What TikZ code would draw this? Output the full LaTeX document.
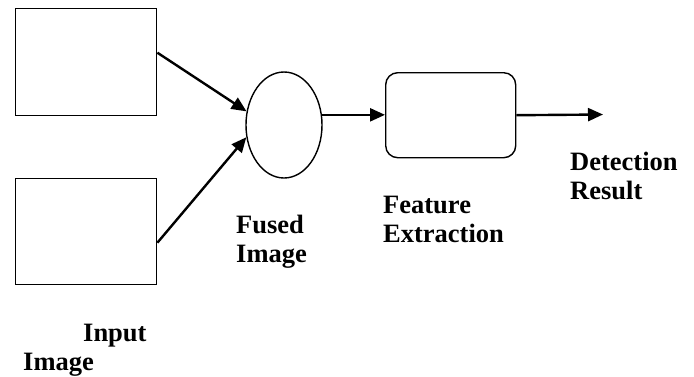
\documentclass[tikz,border=0pt]{standalone}
\usepackage{fontspec}
\setmainfont{Liberation Serif}
\usetikzlibrary{arrows.meta,shapes.geometric}
\begin{document}
\begin{tikzpicture}[x=1pt,y=-1pt,
  box/.style={draw,line width=1.4pt,inner sep=0pt,anchor=north west},
  fuse/.style={draw,ellipse,line width=1.4pt,inner sep=0pt,minimum width=76pt,minimum height=106pt},
  conn/.style={line width=2.4pt,-{Triangle[length=15pt,width=13pt]}},
  lbl/.style={font=\fontsize{26.5pt}{29pt}\selectfont\bfseries,align=left,anchor=base west,inner sep=0pt}]
\useasboundingbox (0,0) rectangle (694,376);
\node[box,minimum width=141pt,minimum height=107pt] (in1) at (15,8) {};
\node[box,minimum width=141pt,minimum height=106pt] (in2) at (15,178) {};
\node[fuse] (fused) at (284,125) {};
\node[box,rounded corners=12pt,minimum width=130pt,minimum height=85pt] (feat) at (385,72) {};
\coordinate (out) at (603,114.5);
\draw[conn] ([yshift=9.5pt]in1.east) -- (fused.160);
\draw[conn] ([yshift=-11pt]in2.east) -- (fused.198);
\draw[conn] (fused.15) -- (fused.15 -| feat.west);
\draw[conn] (feat.east) -- (out);
\node[lbl] (lfused) at (236,262) {Fused\\Image};
\node[lbl] (lfeat) at (383,242) {Feature\\Extraction};
\node[lbl] (ldet) at (570,199) {Detection\\Result};
\node[lbl] (linput) at (23,370) {\hspace*{60pt}Input\\Image};
\end{tikzpicture}
\end{document}
